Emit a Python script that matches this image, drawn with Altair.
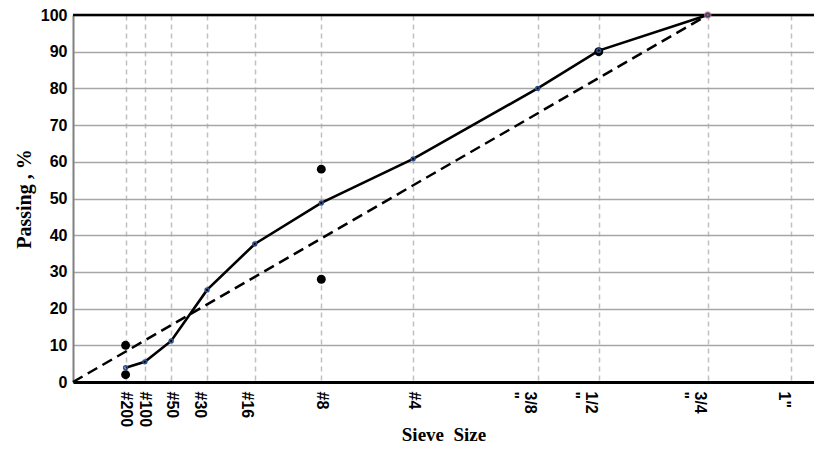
import altair as alt
import pandas as pd

# Sieve axis (0.45 power chart)
sieve_labels = ["#200", "#100", "#50", "#30", "#16", "#8", "#4", '3/8"', '1/2"', '3/4"', '1"']
sieve_mm = [0.075, 0.15, 0.3, 0.6, 1.18, 2.36, 4.75, 9.5, 12.5, 19.0, 25.0]
pass_ticks = [0, 10, 20, 30, 40, 50, 60, 70, 80, 90, 100]

# Gradation curve
grad_mm = [0.075, 0.15, 0.3, 0.6, 1.18, 2.36, 4.75, 9.5, 12.5, 19.0]
grad_pass = [3.9, 5.5, 11.2, 25.1, 37.6, 48.8, 60.8, 80.0, 90.3, 100.0]

# Control points
ctrl_mm = [0.075, 0.075, 2.36, 2.36, 12.5]
ctrl_pass = [10, 2, 58, 28, 90]

# Maximum density line
mdl_mm = [0.0, 19.0]
mdl_pass = [0, 100]

# Nominal maximum size point
nmas_mm = [19.0]
nmas_pass = [100]

grad = pd.DataFrame({"mm": grad_mm, "pct": grad_pass})
ctrl = pd.DataFrame({"mm": ctrl_mm, "pct": ctrl_pass})
mdl = pd.DataFrame({"mm": mdl_mm, "pct": mdl_pass})
nmas = pd.DataFrame({"mm": nmas_mm, "pct": nmas_pass})

fractions = {'3/8"', '1/2"', '3/4"'}
expr = ""
for mm, lab in zip(sieve_mm, sieve_labels):
    if lab in fractions:
        js = "['" + lab[:-1] + "', '\"']"
    else:
        js = "'" + lab + "'"
    expr += "datum.value == " + repr(mm) + " ? " + js + " : "
expr += "''"

top_vals = "datum.value == 0.6 || datum.value == 1.18 || datum.value >= 9"

LABEL_FONT = "Liberation Sans"
TITLE_FONT = "Liberation Serif"

xscale = alt.Scale(type="pow", exponent=0.45, domain=[0, 26.8], nice=False, zero=True)
yscale = alt.Scale(domain=[0, 100], nice=False)

xaxis = alt.Axis(
    values=sieve_mm, labelExpr=expr, labelAngle=90, labelAlign="left",
    labelBaseline={"condition": {"test": top_vals, "value": "top"}, "value": "middle"},
    labelFont=LABEL_FONT, labelFontSize=16, labelFontWeight="bold", labelColor="black",
    labelPadding=9, labelOverlap=False, labelLineHeight=18, labelFlush=False,
    ticks=False, grid=True, gridColor="#c0c0c0", gridDash=[5, 4], gridWidth=1.5,
    domainColor="black", domainWidth=3,
    title="Sieve \u00a0Size", titleFont=TITLE_FONT, titleFontSize=19, titleFontWeight="bold",
    titleColor="black", titleY=58, titleBaseline="alphabetic",
)
yaxis = alt.Axis(
    values=pass_ticks, tickCount=11, labelOverlap=False, labelFlush=False,
    labelFont=LABEL_FONT, labelFontSize=16, labelFontWeight="bold", labelColor="black",
    labelPadding=6, ticks=False, grid=True, gridColor="#a6a6a6", gridWidth=1.5,
    domainColor="#808080", domainWidth=2,
    title="Passing , %", titleFont=TITLE_FONT, titleFontSize=20, titleFontWeight="bold",
    titleColor="black", titlePadding=6,
)

X = alt.X("mm:Q", scale=xscale, axis=xaxis)
Y = alt.Y("pct:Q", scale=yscale, axis=yaxis)

dashed = alt.Chart(mdl).mark_line(color="black", strokeWidth=2.5, strokeDash=[11, 6]).encode(x=X, y=Y)
top_rule = alt.Chart(nmas).mark_rule(color="black", strokeWidth=2.5).encode(y=Y)
solid = alt.Chart(grad).mark_line(color="black", strokeWidth=2.6).encode(
    x=X, y=Y, order=alt.Order("mm:Q")
)
dots = alt.Chart(ctrl).mark_circle(color="black", size=80, opacity=1).encode(x=X, y=Y)
ring = alt.Chart(nmas).mark_circle(color="#f08080", size=55, opacity=0.7).encode(x=X, y=Y)
markers = alt.Chart(grad).mark_point(
    shape="circle", size=14, filled=False, stroke="#2e4f8a", strokeWidth=1.6, opacity=1
).encode(x=X, y=Y)

chart = alt.layer(dashed, top_rule, solid, dots, ring, markers).properties(
    width=741, height=367, autosize="none",
    padding={"left": 65, "top": 7, "right": 0, "bottom": 61},
).configure_view(stroke=None).configure(background="white")

chart.save("out.html", embed_options={"renderer": "svg", "actions": False})
